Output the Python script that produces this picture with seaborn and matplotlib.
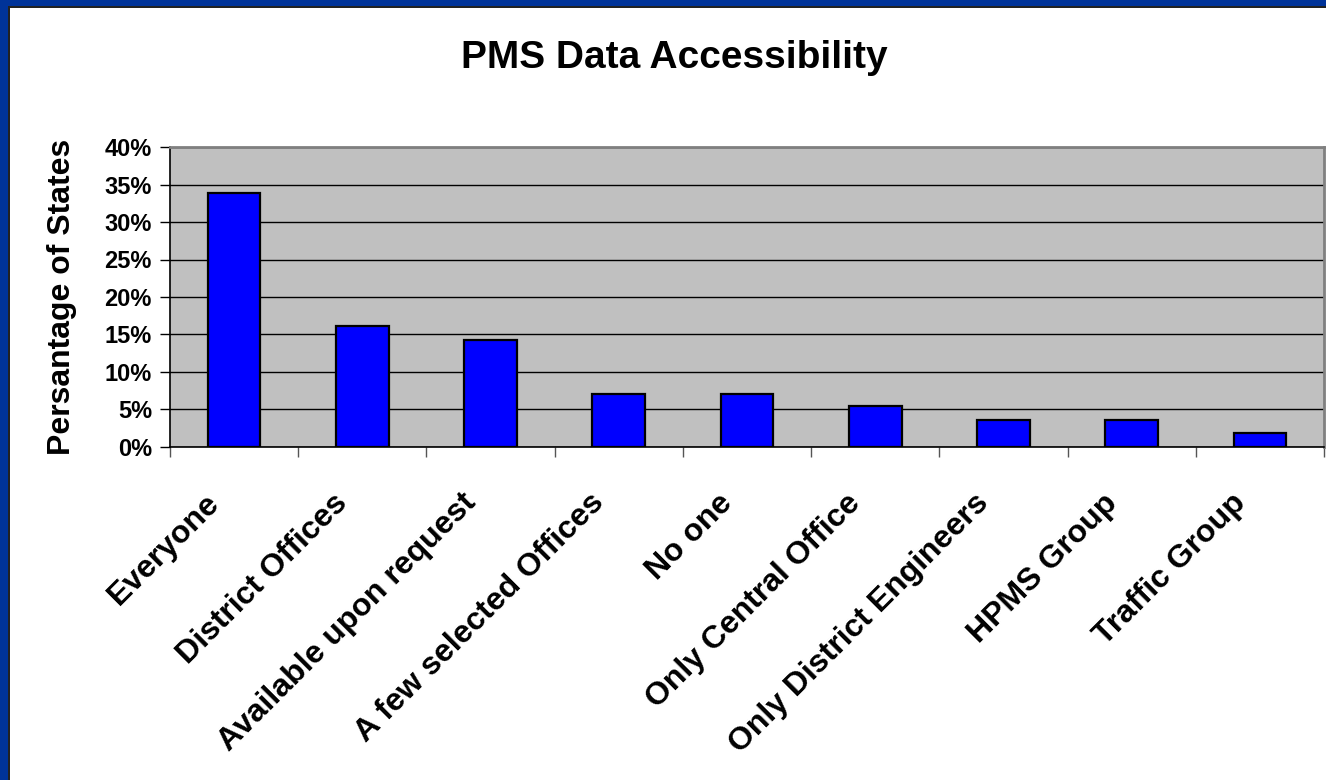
import matplotlib
matplotlib.use("Agg")
import matplotlib.pyplot as plt
import matplotlib.patches as mpatches
import matplotlib.transforms as mtransforms
import seaborn as sns
import pandas as pd
import numpy as np
from matplotlib.ticker import FixedLocator, PercentFormatter

# Datos (porcentaje de estados)
categorias = ["Everyone", "District Offices", "Available upon request",
              "A few selected Offices", "No one", "Only Central Office",
              "Only District Engineers", "HPMS Group", "Traffic Group"]
porcentajes = [33.9, 16.1, 14.3, 7.1, 7.1, 5.4, 3.6, 3.6, 1.8]
yticks = [0, 5, 10, 15, 20, 25, 30, 35, 40]

df = pd.DataFrame({"cat": categorias, "pct": porcentajes})

sns.set_style("white")
plt.rcParams["font.family"] = ["Liberation Sans", "DejaVu Sans"]
plt.rcParams["font.weight"] = "bold"
plt.rcParams["text.color"] = "black"
plt.rcParams["axes.labelcolor"] = "black"
plt.rcParams["xtick.color"] = "black"
plt.rcParams["ytick.color"] = "black"

W, H = 1326, 780
fig = plt.figure(figsize=(W / 100, H / 100), dpi=100)
fig.patch.set_facecolor("white")

# marco azul (izquierda y arriba)
azul = "#003399"
fig.patches.append(mpatches.Rectangle((0, 0), 8 / W, 1, transform=fig.transFigure,
                                      facecolor=azul, edgecolor="none", zorder=0))
fig.patches.append(mpatches.Rectangle((0, 1 - 6 / H), 1, 6 / H, transform=fig.transFigure,
                                      facecolor=azul, edgecolor="none", zorder=0))
fig.patches.append(mpatches.Rectangle((8 / W, 0), 1.5 / W, 1 - 6 / H, transform=fig.transFigure,
                                      facecolor="#222222", edgecolor="none", zorder=0))
fig.patches.append(mpatches.Rectangle((8 / W, 1 - 7.5 / H), 1, 1.5 / H, transform=fig.transFigure,
                                      facecolor="#222222", edgecolor="none", zorder=0))

ax = fig.add_axes([170 / W, 1 - 447 / H, 1154 / W, 300 / H])
ax.set_facecolor("#C0C0C0")

sns.barplot(data=df, x="cat", y="pct", color="#0000FF", saturation=1,
            edgecolor="black", linewidth=1.6, width=0.41, ax=ax, zorder=3)

ax.set_xlim(-0.5, len(categorias) - 0.5)
ax.set_ylim(0, 40)
ax.set_yticks(yticks)
ax.yaxis.set_major_formatter(PercentFormatter(decimals=0))
ax.yaxis.grid(True, color="black", linewidth=1)
ax.set_axisbelow(True)

# ticks en los limites de categoria
ax.xaxis.set_minor_locator(FixedLocator(np.arange(-0.5, len(categorias), 1)))
ax.tick_params(axis="x", which="minor", length=7, width=1, color="#555555", direction="out", bottom=True)
ax.tick_params(axis="x", which="major", length=0, pad=37, labelsize=23)
ax.tick_params(axis="y", which="major", length=7, width=1, color="black", direction="out",
               left=True, labelsize=17, pad=6)
desplaza = mtransforms.ScaledTranslation(-19 / 100, 0, fig.dpi_scale_trans)
for lab in ax.get_xticklabels():
    lab.set_rotation(45)
    lab.set_ha("right")
    lab.set_va("center")
    lab.set_rotation_mode("anchor")
    lab.set_fontweight("bold")
    lab.set_transform(lab.get_transform() + desplaza)
for lab in ax.get_yticklabels():
    lab.set_fontweight("bold")

for s in ["left", "bottom"]:
    ax.spines[s].set_color("black")
    ax.spines[s].set_linewidth(1.2)
for s in ["top", "right"]:
    ax.spines[s].set_color("#808080")
    ax.spines[s].set_linewidth(2)

ax.set_xlabel("")
ax.set_ylabel("Persantage of States", fontsize=23, fontweight="bold", labelpad=20)

fig.text(674 / W, 1 - 58 / H, "PMS Data Accessibility", fontsize=28, fontweight="bold",
         ha="center", va="center")

fig.savefig("out.png", dpi=100)
